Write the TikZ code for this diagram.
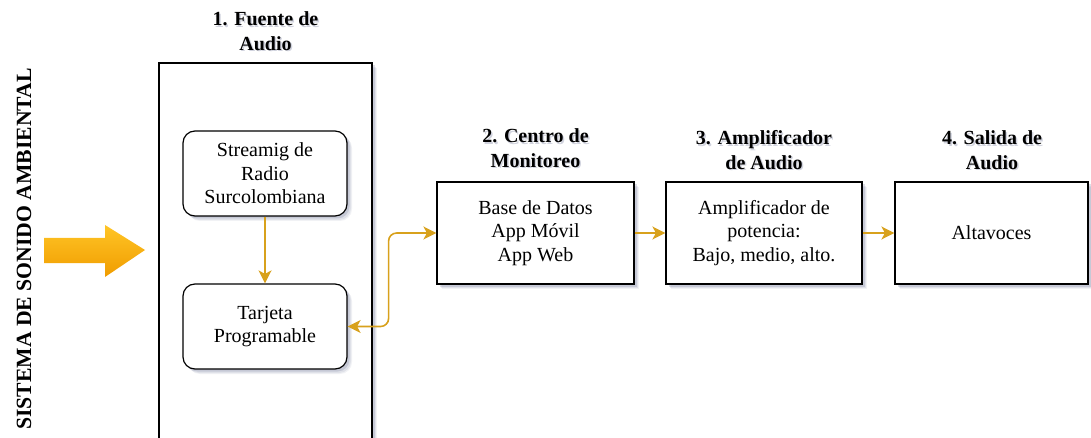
\documentclass[tikz,border=0pt]{standalone}
\usepackage{fontspec}
\setmainfont{Liberation Serif}
\usetikzlibrary{shadows,arrows.meta}
\definecolor{linkgold}{HTML}{D8A11C}
\definecolor{arrowtop}{HTML}{FFC526}
\definecolor{arrowbot}{HTML}{F09C00}
\definecolor{shade}{HTML}{7A80A0}
\tikzset{
  softshadow/.style={
    general shadow={shadow xshift=5pt,shadow yshift=-5pt,fill=shade,opacity=.10},
    general shadow={shadow xshift=4pt,shadow yshift=-4pt,fill=shade,opacity=.15},
    general shadow={shadow xshift=2.5pt,shadow yshift=-2.5pt,fill=shade,opacity=.25}},
  blockbox/.style={draw=black,line width=1.2pt,fill=white,inner sep=0pt,
    align=center,font=\fontsize{20}{23.5}\selectfont,softshadow},
  roundbox/.style={blockbox,rounded corners=12pt},
  titletext/.style={align=center,font=\bfseries\fontsize{20}{24.5}\selectfont},
  titleshadow/.style={titletext,text=shade,opacity=.35},
  goldtip/.tip={Stealth[length=13pt,width=13pt,inset=3.5pt]},
  link/.style={draw=linkgold,line width=1.6pt,-goldtip},
}
\newcommand{\steptitle}[3]{%
  \node[titleshadow] at ([xshift=1.5pt,yshift=-1.5pt]#2) {#3};
  \node[titletext] (#1) at (#2) {#3};}
\begin{document}
\begin{tikzpicture}[x=1pt,y=-1pt]
\useasboundingbox (0,0) rectangle (1091,438);

% side label
\node[rotate=90,font=\bfseries\fontsize{21.7}{24}\selectfont] (sistema) at (24,249)
  {SISTEMA DE SONIDO AMBIENTAL};

% input arrow
\shade[top color=arrowtop,bottom color=arrowbot]
  (44,238) -- (105,238) -- (105,225) -- (145,250) -- (105,277) -- (105,263) -- (44,263) -- cycle;

% stage 1: audio source
\node[blockbox,minimum width=213pt,minimum height=385pt] (fuente) at (265.5,255.5) {};
\steptitle{tfuente}{265.5,31}{1. Fuente de\\Audio}
\node[roundbox,minimum width=164pt,minimum height=85pt] (stream) at (265,173.5)
  {Streamig de\\Radio\\Surcolombiana};
\node[roundbox,minimum width=164pt,minimum height=85pt] (tarjeta) at (265,326.5)
  {Tarjeta\\Programable};

% stages 2-4
\node[blockbox,minimum width=197pt,minimum height=102pt] (centro) at (535.5,233)
  {Base de Datos\\App Móvil\\App Web};
\steptitle{tcentro}{535.5,148}{2. Centro de\\Monitoreo}
\node[blockbox,minimum width=196pt,minimum height=102pt] (ampli) at (764,233)
  {Amplificador de\\potencia:\\Bajo, medio, alto.};
\steptitle{tampli}{764,150}{3. Amplificador\\de Audio}
\node[blockbox,minimum width=193pt,minimum height=102pt] (salida) at (991.5,233)
  {Altavoces};
\steptitle{tsalida}{992,150}{4. Salida de\\Audio}

% connectors
\draw[link] (stream) -- (tarjeta);
\draw[link,goldtip-goldtip,rounded corners=8pt]
  (tarjeta.east) -- ++(41,0) |- (centro.west);
\draw[link] (centro) -- (ampli);
\draw[link] (ampli) -- (salida);
\end{tikzpicture}
\end{document}
